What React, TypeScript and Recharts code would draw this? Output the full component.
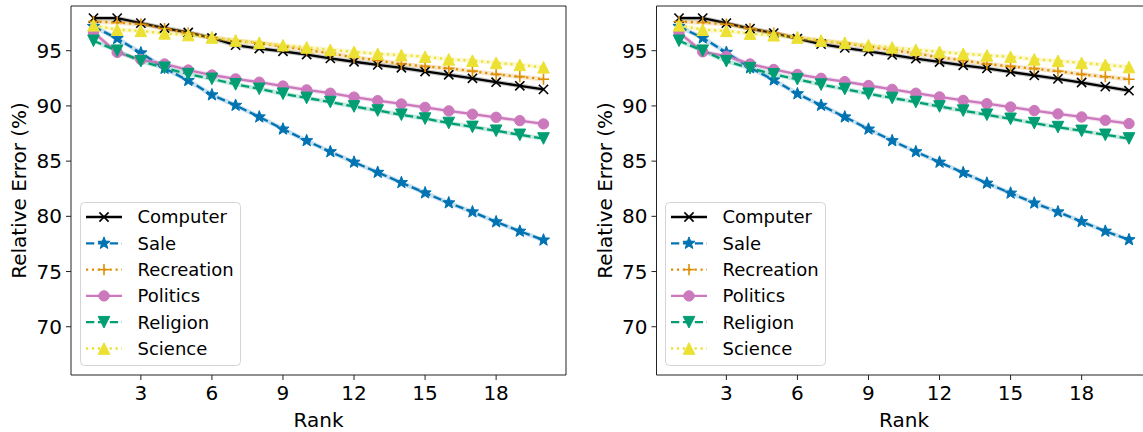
import React from 'react';
import { LineChart, Line, XAxis, YAxis, ReferenceLine, Legend } from 'recharts';

const FONT = '"DejaVu Sans", Verdana, sans-serif';

const ranks = [1, 2, 3, 4, 5, 6, 7, 8, 9, 10, 11, 12, 13, 14, 15, 16, 17, 18, 19, 20];
const xTicks = [3, 6, 9, 12, 15, 18];
const yTicks = [70, 75, 80, 85, 90, 95];

// Left panel
const computerL = [97.95, 97.95, 97.5, 97.05, 96.65, 96.15, 95.5, 95.2, 94.95, 94.65, 94.3, 94.0, 93.72, 93.45, 93.12, 92.82, 92.5, 92.15, 91.82, 91.5];
const saleL = [97.2, 96.1, 94.8, 93.4, 92.3, 91.0, 90.05, 89.0, 87.9, 86.85, 85.85, 84.9, 83.98, 83.05, 82.12, 81.22, 80.4, 79.5, 78.65, 77.85];
const recreationL = [97.65, 97.55, 97.4, 97.0, 96.6, 96.2, 95.9, 95.7, 95.38, 95.07, 94.76, 94.4, 94.12, 93.8, 93.58, 93.4, 93.15, 92.86, 92.65, 92.42];
const politicsL = [96.65, 94.85, 94.2, 93.8, 93.25, 92.8, 92.45, 92.15, 91.8, 91.45, 91.15, 90.8, 90.48, 90.18, 89.87, 89.55, 89.25, 88.97, 88.67, 88.37];
const religionL = [95.9, 95.0, 94.05, 93.45, 92.88, 92.45, 91.95, 91.55, 91.1, 90.72, 90.35, 89.95, 89.58, 89.2, 88.85, 88.45, 88.1, 87.75, 87.38, 87.05];
const scienceL = [97.3, 96.9, 96.8, 96.57, 96.42, 96.2, 95.92, 95.72, 95.5, 95.3, 95.08, 94.9, 94.72, 94.6, 94.46, 94.22, 94.1, 93.9, 93.72, 93.5];

// Right panel
const computerR = [97.95, 97.95, 97.5, 97.0, 96.6, 96.1, 95.6, 95.25, 94.95, 94.62, 94.28, 93.98, 93.68, 93.4, 93.08, 92.76, 92.45, 92.12, 91.75, 91.38];
const saleR = [97.2, 96.15, 94.85, 93.45, 92.35, 91.1, 90.05, 89.0, 87.9, 86.85, 85.85, 84.9, 83.95, 83.0, 82.1, 81.2, 80.4, 79.52, 78.65, 77.88];
const recreationR = [97.65, 97.55, 97.4, 97.0, 96.6, 96.2, 95.9, 95.68, 95.36, 95.06, 94.75, 94.4, 94.12, 93.8, 93.58, 93.38, 93.14, 92.86, 92.64, 92.42];
const politicsR = [96.65, 94.9, 94.5, 93.8, 93.3, 92.85, 92.5, 92.2, 91.85, 91.5, 91.15, 90.82, 90.5, 90.2, 89.9, 89.58, 89.28, 89.0, 88.7, 88.4];
const religionR = [95.9, 95.0, 94.05, 93.42, 92.86, 92.42, 91.93, 91.53, 91.1, 90.72, 90.35, 89.95, 89.57, 89.2, 88.83, 88.44, 88.08, 87.74, 87.38, 87.05];
const scienceR = [97.3, 96.9, 96.8, 96.55, 96.4, 96.2, 95.92, 95.72, 95.5, 95.3, 95.08, 94.9, 94.72, 94.58, 94.45, 94.22, 94.08, 93.9, 93.72, 93.52];

type Shape = 'x' | '*' | '+' | 'o' | 'v' | '^';
interface SeriesDef { key: string; name: string; color: string; dash?: string; marker: Shape; }

const SERIES: SeriesDef[] = [
  { key: 'computer', name: 'Computer', color: '#000000', marker: 'x' },
  { key: 'sale', name: 'Sale', color: '#0173b2', dash: '8.3 3.6', marker: '*' },
  { key: 'recreation', name: 'Recreation', color: '#de8f05', dash: '2.2 3.7', marker: '+' },
  { key: 'politics', name: 'Politics', color: '#cc78bc', marker: 'o' },
  { key: 'religion', name: 'Religion', color: '#029e73', dash: '8.3 3.6', marker: 'v' },
  { key: 'science', name: 'Science', color: '#ece133', dash: '2.2 3.7', marker: '^' },
];

function starPoints(cx: number, cy: number, ro: number, ri: number) {
  const pts: string[] = [];
  for (let i = 0; i < 10; i++) {
    const r = i % 2 === 0 ? ro : ri;
    const a = -Math.PI / 2 + (i * Math.PI) / 5;
    pts.push(`${cx + r * Math.cos(a)},${cy + r * Math.sin(a)}`);
  }
  return pts.join(' ');
}

function Marker({ shape, cx, cy, color }: { shape: Shape; cx: number; cy: number; color: string }) {
  if (cx == null || cy == null || isNaN(cx) || isNaN(cy)) return null;
  switch (shape) {
    case 'x': {
      const s = 4.6;
      return (
        <g stroke={color} strokeWidth={1.6}>
          <line x1={cx - s} y1={cy - s} x2={cx + s} y2={cy + s} />
          <line x1={cx - s} y1={cy + s} x2={cx + s} y2={cy - s} />
        </g>
      );
    }
    case '+': {
      const s = 5.6;
      return (
        <g stroke={color} strokeWidth={1.6}>
          <line x1={cx - s} y1={cy} x2={cx + s} y2={cy} />
          <line x1={cx} y1={cy - s} x2={cx} y2={cy + s} />
        </g>
      );
    }
    case 'o':
      return <circle cx={cx} cy={cy} r={5.2} fill={color} stroke={color} strokeWidth={1} />;
    case '*':
      return <polygon points={starPoints(cx, cy, 6.4, 2.7)} fill={color} stroke={color} strokeWidth={1} />;
    case '^': {
      const h = 5.8;
      return <polygon points={`${cx},${cy - h} ${cx - h},${cy + h} ${cx + h},${cy + h}`} fill={color} stroke={color} strokeWidth={1} />;
    }
    case 'v': {
      const h = 5.8;
      return <polygon points={`${cx},${cy + h} ${cx - h},${cy - h} ${cx + h},${cy - h}`} fill={color} stroke={color} strokeWidth={1} />;
    }
  }
  return null;
}

const renderLegend = () => (
  <svg width={162} height={165} style={{ display: 'block', overflow: 'visible' }}>
    <rect x={0.5} y={0.5} width={160} height={163} rx={4} ry={4} fill="#ffffff" fillOpacity={0.8} stroke="#d4d4d4" strokeWidth={1} />
    {SERIES.map((s, i) => {
      const y = 15 + i * 26.3;
      return (
        <g key={s.key}>
          <line x1={6} x2={42} y1={y} y2={y} stroke={s.color} strokeWidth={2.3} strokeDasharray={s.dash} />
          <Marker shape={s.marker} cx={24} cy={y} color={s.color} />
          <text x={57.5} y={y} dy="0.36em" fontSize={18} fontFamily={FONT} fill="#000">
            {s.name}
          </text>
        </g>
      );
    })}
  </svg>
);

interface PanelProps {
  values: Record<string, number[]>;
  left: number;
  yAxisWidth: number;
}

function Panel({ values, left, yAxisWidth }: PanelProps) {
  const data = ranks.map((r, i) => {
    const row: Record<string, number> = { rank: r };
    SERIES.forEach((s) => {
      row[s.key] = values[s.key][i];
    });
    return row;
  });
  const width = yAxisWidth + 495 + 14;
  const tickStyle = { fill: '#000', fontSize: 20, fontFamily: FONT };

  const lines = SERIES.flatMap((s) => [
    <Line
      key={s.key + '-band'}
      dataKey={s.key}
      stroke={s.color}
      strokeOpacity={0.22}
      strokeWidth={4.5}
      dot={false}
      activeDot={false}
      legendType="none"
      isAnimationActive={false}
    />,
    <Line
      key={s.key}
      dataKey={s.key}
      name={s.name}
      stroke={s.color}
      strokeWidth={2.3}
      strokeDasharray={s.dash}
      activeDot={false}
      isAnimationActive={false}
      dot={(p: any) => <Marker key={`${s.key}-${p.index}`} shape={s.marker} cx={p.cx} cy={p.cy} color={s.color} />}
    />,
  ]);

  return (
    <div style={{ position: 'absolute', left, top: 0 }}>
      <LineChart width={width} height={432} data={data} margin={{ top: 6, right: 14, bottom: 0, left: 0 }}>
        <XAxis
          dataKey="rank"
          type="number"
          domain={[0.05, 20.95]}
          ticks={xTicks}
          allowDataOverflow
          height={57}
          tickSize={5}
          tickMargin={6}
          stroke="#222"
          tick={tickStyle}
          label={(p: any) => {
            const vb = p.viewBox || { x: yAxisWidth, y: 375, width: 495, height: 57 };
            return (
              <text x={vb.x + vb.width / 2} y={vb.y + 51.5} textAnchor="middle" fontSize={20} fontFamily={FONT} fill="#000">
                Rank
              </text>
            );
          }}
        />
        <YAxis
          type="number"
          domain={[65.63, 99.05]}
          ticks={yTicks}
          allowDataOverflow
          width={yAxisWidth}
          tickSize={5}
          tickMargin={4}
          stroke="#222"
          tick={tickStyle}
          label={(p: any) => {
            const vb = p.viewBox || { x: 0, y: 6, width: yAxisWidth, height: 369 };
            const cx = vb.x + vb.width - 52;
            const cy = vb.y + vb.height / 2;
            return (
              <text
                x={cx}
                y={cy}
                dy="0.36em"
                transform={`rotate(-90, ${cx}, ${cy})`}
                textAnchor="middle"
                fontSize={20}
                fontFamily={FONT}
                fill="#000"
              >
                Relative Error (%)
              </text>
            );
          }}
        />
        <ReferenceLine y={99.05} stroke="#222" strokeWidth={1} />
        <ReferenceLine x={20.95} stroke="#222" strokeWidth={1} />
        {lines}
        <Legend
          layout="vertical"
          align="center"
          verticalAlign="middle"
          content={renderLegend}
          wrapperStyle={{ left: 80, top: 202, width: 162, height: 165 }}
        />
      </LineChart>
    </div>
  );
}

export default function App() {
  const leftValues = {
    computer: computerL,
    sale: saleL,
    recreation: recreationL,
    politics: politicsL,
    religion: religionL,
    science: scienceL,
  };
  const rightValues = {
    computer: computerR,
    sale: saleR,
    recreation: recreationR,
    politics: politicsR,
    religion: religionR,
    science: scienceR,
  };
  return (
    <div
      style={{
        position: 'absolute',
        left: 0,
        top: 0,
        width: 1143,
        height: 432,
        overflow: 'hidden',
        background: '#fff',
        fontFamily: FONT,
      }}
    >
      <Panel values={leftValues} left={0} yAxisWidth={71} />
      <Panel values={rightValues} left={585} yAxisWidth={71.5} />
    </div>
  );
}
